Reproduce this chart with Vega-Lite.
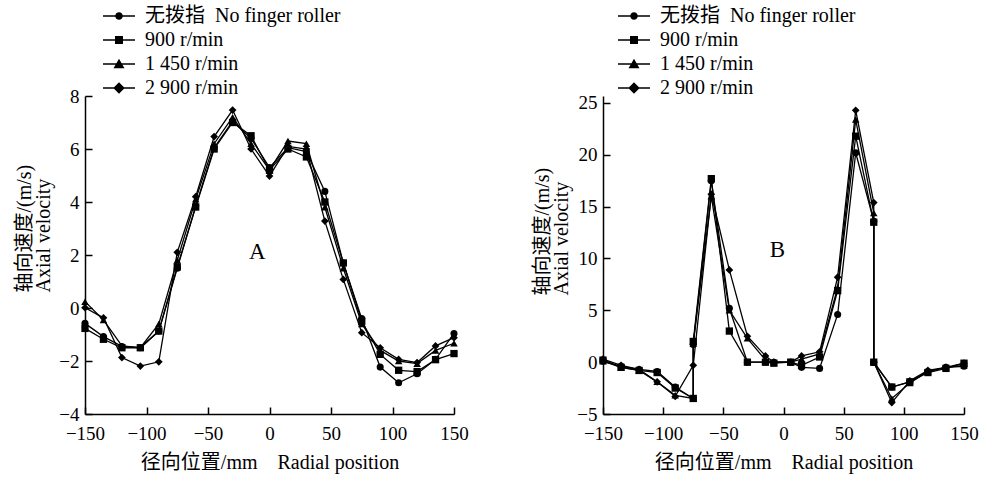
{
"$schema": "https://vega.github.io/schema/vega-lite/v6.json",
"background": "white",
"padding": {"left": 14, "top": 6, "right": 5, "bottom": 5},
"spacing": 62,
"config": {
  "view": {"stroke": null},
  "font": "Liberation Serif, Noto Sans CJK SC",
  "axis": {"domainColor": "black", "domainWidth": 1.5, "tickColor": "black", "tickWidth": 1.5, "tickSize": -7, "labelFont": "Liberation Serif", "labelFontSize": 19, "labelColor": "black", "titleFont": "Liberation Serif, Noto Sans CJK SC", "titleFontSize": 20, "titleFontWeight": "normal", "titleColor": "black", "grid": false, "labelFlush": false},
  "axisX": {"labelPadding": 17, "titlePadding": 9},
  "axisY": {"labelPadding": 13, "titlePadding": 5, "titleLineHeight": 19, "titleAlign": "left"}
},
"datasets": {
"a": [
{"s":"无拨指\u00a0\u00a0No finger roller","r":-150,"v":-0.58},{"s":"无拨指\u00a0\u00a0No finger roller","r":-135,"v":-1.08},{"s":"无拨指\u00a0\u00a0No finger roller","r":-120,"v":-1.45},{"s":"无拨指\u00a0\u00a0No finger roller","r":-105,"v":-1.5},{"s":"无拨指\u00a0\u00a0No finger roller","r":-90,"v":-0.87},{"s":"无拨指\u00a0\u00a0No finger roller","r":-75,"v":1.5},{"s":"无拨指\u00a0\u00a0No finger roller","r":-60,"v":3.85},{"s":"无拨指\u00a0\u00a0No finger roller","r":-45,"v":6.05},{"s":"无拨指\u00a0\u00a0No finger roller","r":-30,"v":7.05},{"s":"无拨指\u00a0\u00a0No finger roller","r":-15,"v":6.4},{"s":"无拨指\u00a0\u00a0No finger roller","r":0,"v":5.3},{"s":"无拨指\u00a0\u00a0No finger roller","r":15,"v":6.05},{"s":"无拨指\u00a0\u00a0No finger roller","r":30,"v":5.9},{"s":"无拨指\u00a0\u00a0No finger roller","r":45,"v":4.4},{"s":"无拨指\u00a0\u00a0No finger roller","r":60,"v":1.7},{"s":"无拨指\u00a0\u00a0No finger roller","r":75,"v":-0.4},{"s":"无拨指\u00a0\u00a0No finger roller","r":90,"v":-2.23},{"s":"无拨指\u00a0\u00a0No finger roller","r":105,"v":-2.82},{"s":"无拨指\u00a0\u00a0No finger roller","r":120,"v":-2.48},{"s":"无拨指\u00a0\u00a0No finger roller","r":135,"v":-1.94},{"s":"无拨指\u00a0\u00a0No finger roller","r":150,"v":-0.96},
{"s":"900 r/min","r":-150,"v":-0.77},{"s":"900 r/min","r":-135,"v":-1.18},{"s":"900 r/min","r":-120,"v":-1.5},{"s":"900 r/min","r":-105,"v":-1.5},{"s":"900 r/min","r":-90,"v":-0.87},{"s":"900 r/min","r":-75,"v":1.55},{"s":"900 r/min","r":-60,"v":3.81},{"s":"900 r/min","r":-45,"v":6.0},{"s":"900 r/min","r":-30,"v":7.0},{"s":"900 r/min","r":-15,"v":6.5},{"s":"900 r/min","r":0,"v":5.2},{"s":"900 r/min","r":15,"v":6.0},{"s":"900 r/min","r":30,"v":5.7},{"s":"900 r/min","r":45,"v":4.0},{"s":"900 r/min","r":60,"v":1.7},{"s":"900 r/min","r":75,"v":-0.5},{"s":"900 r/min","r":90,"v":-1.75},{"s":"900 r/min","r":105,"v":-2.35},{"s":"900 r/min","r":120,"v":-2.4},{"s":"900 r/min","r":135,"v":-1.95},{"s":"900 r/min","r":150,"v":-1.72},
{"s":"1 450 r/min","r":-150,"v":0.24},{"s":"1 450 r/min","r":-135,"v":-0.45},{"s":"1 450 r/min","r":-120,"v":-1.43},{"s":"1 450 r/min","r":-105,"v":-1.5},{"s":"1 450 r/min","r":-90,"v":-0.6},{"s":"1 450 r/min","r":-75,"v":1.8},{"s":"1 450 r/min","r":-60,"v":4.1},{"s":"1 450 r/min","r":-45,"v":6.2},{"s":"1 450 r/min","r":-30,"v":7.2},{"s":"1 450 r/min","r":-15,"v":6.2},{"s":"1 450 r/min","r":0,"v":5.2},{"s":"1 450 r/min","r":15,"v":6.3},{"s":"1 450 r/min","r":30,"v":6.2},{"s":"1 450 r/min","r":45,"v":3.8},{"s":"1 450 r/min","r":60,"v":1.5},{"s":"1 450 r/min","r":75,"v":-0.6},{"s":"1 450 r/min","r":90,"v":-1.6},{"s":"1 450 r/min","r":105,"v":-2.0},{"s":"1 450 r/min","r":120,"v":-2.1},{"s":"1 450 r/min","r":135,"v":-1.6},{"s":"1 450 r/min","r":150,"v":-1.33},
{"s":"2 900 r/min","r":-150,"v":0.01},{"s":"2 900 r/min","r":-135,"v":-0.37},{"s":"2 900 r/min","r":-120,"v":-1.87},{"s":"2 900 r/min","r":-105,"v":-2.19},{"s":"2 900 r/min","r":-90,"v":-2.03},{"s":"2 900 r/min","r":-75,"v":2.1},{"s":"2 900 r/min","r":-60,"v":4.2},{"s":"2 900 r/min","r":-45,"v":6.47},{"s":"2 900 r/min","r":-30,"v":7.47},{"s":"2 900 r/min","r":-15,"v":6.0},{"s":"2 900 r/min","r":0,"v":4.98},{"s":"2 900 r/min","r":15,"v":6.1},{"s":"2 900 r/min","r":30,"v":6.0},{"s":"2 900 r/min","r":45,"v":3.28},{"s":"2 900 r/min","r":60,"v":1.08},{"s":"2 900 r/min","r":75,"v":-0.93},{"s":"2 900 r/min","r":90,"v":-1.5},{"s":"2 900 r/min","r":105,"v":-1.94},{"s":"2 900 r/min","r":120,"v":-2.06},{"s":"2 900 r/min","r":135,"v":-1.43},{"s":"2 900 r/min","r":150,"v":-1.12}
],
"b": [
{"s":"无拨指\u00a0\u00a0No finger roller","o":0,"r":-150,"v":0.1},{"s":"无拨指\u00a0\u00a0No finger roller","o":1,"r":-135,"v":-0.4},{"s":"无拨指\u00a0\u00a0No finger roller","o":2,"r":-120,"v":-0.7},{"s":"无拨指\u00a0\u00a0No finger roller","o":3,"r":-105,"v":-0.9},{"s":"无拨指\u00a0\u00a0No finger roller","o":4,"r":-90,"v":-2.4},{"s":"无拨指\u00a0\u00a0No finger roller","o":5,"r":-75,"v":-3.5},{"s":"无拨指\u00a0\u00a0No finger roller","o":6,"r":-75,"v":1.7},{"s":"无拨指\u00a0\u00a0No finger roller","o":7,"r":-60,"v":17.5},{"s":"无拨指\u00a0\u00a0No finger roller","o":8,"r":-45,"v":5.2},{"s":"无拨指\u00a0\u00a0No finger roller","o":9,"r":-30,"v":0.0},{"s":"无拨指\u00a0\u00a0No finger roller","o":10,"r":-15,"v":0.0},{"s":"无拨指\u00a0\u00a0No finger roller","o":11,"r":-8,"v":0.0},{"s":"无拨指\u00a0\u00a0No finger roller","o":12,"r":6,"v":0.0},{"s":"无拨指\u00a0\u00a0No finger roller","o":13,"r":15,"v":-0.5},{"s":"无拨指\u00a0\u00a0No finger roller","o":14,"r":30,"v":-0.6},{"s":"无拨指\u00a0\u00a0No finger roller","o":15,"r":45,"v":4.6},{"s":"无拨指\u00a0\u00a0No finger roller","o":16,"r":60,"v":20.2},{"s":"无拨指\u00a0\u00a0No finger roller","o":17,"r":75,"v":13.6},{"s":"无拨指\u00a0\u00a0No finger roller","o":18,"r":75,"v":0.0},{"s":"无拨指\u00a0\u00a0No finger roller","o":19,"r":90,"v":-2.4},{"s":"无拨指\u00a0\u00a0No finger roller","o":20,"r":105,"v":-1.9},{"s":"无拨指\u00a0\u00a0No finger roller","o":21,"r":120,"v":-0.9},{"s":"无拨指\u00a0\u00a0No finger roller","o":22,"r":135,"v":-0.5},{"s":"无拨指\u00a0\u00a0No finger roller","o":23,"r":150,"v":-0.4},
{"s":"900 r/min","o":0,"r":-150,"v":0.2},{"s":"900 r/min","o":1,"r":-135,"v":-0.5},{"s":"900 r/min","o":2,"r":-120,"v":-0.8},{"s":"900 r/min","o":3,"r":-105,"v":-1.0},{"s":"900 r/min","o":4,"r":-90,"v":-2.5},{"s":"900 r/min","o":5,"r":-75,"v":-3.5},{"s":"900 r/min","o":6,"r":-75,"v":2.0},{"s":"900 r/min","o":7,"r":-60,"v":17.7},{"s":"900 r/min","o":8,"r":-45,"v":3.0},{"s":"900 r/min","o":9,"r":-30,"v":0.0},{"s":"900 r/min","o":10,"r":-15,"v":0.0},{"s":"900 r/min","o":11,"r":-8,"v":-0.1},{"s":"900 r/min","o":12,"r":6,"v":0.0},{"s":"900 r/min","o":13,"r":15,"v":-0.3},{"s":"900 r/min","o":14,"r":30,"v":0.5},{"s":"900 r/min","o":15,"r":45,"v":6.9},{"s":"900 r/min","o":16,"r":60,"v":21.8},{"s":"900 r/min","o":17,"r":75,"v":13.5},{"s":"900 r/min","o":18,"r":75,"v":0.0},{"s":"900 r/min","o":19,"r":90,"v":-2.4},{"s":"900 r/min","o":20,"r":105,"v":-1.9},{"s":"900 r/min","o":21,"r":120,"v":-1.0},{"s":"900 r/min","o":22,"r":135,"v":-0.6},{"s":"900 r/min","o":23,"r":150,"v":-0.1},
{"s":"1 450 r/min","o":0,"r":-150,"v":0.1},{"s":"1 450 r/min","o":1,"r":-135,"v":-0.5},{"s":"1 450 r/min","o":2,"r":-120,"v":-0.8},{"s":"1 450 r/min","o":3,"r":-105,"v":-1.9},{"s":"1 450 r/min","o":4,"r":-90,"v":-3.2},{"s":"1 450 r/min","o":5,"r":-75,"v":-3.5},{"s":"1 450 r/min","o":6,"r":-75,"v":1.8},{"s":"1 450 r/min","o":7,"r":-60,"v":16.0},{"s":"1 450 r/min","o":8,"r":-45,"v":5.0},{"s":"1 450 r/min","o":9,"r":-30,"v":2.3},{"s":"1 450 r/min","o":10,"r":-15,"v":0.2},{"s":"1 450 r/min","o":11,"r":-8,"v":0.0},{"s":"1 450 r/min","o":12,"r":6,"v":0.0},{"s":"1 450 r/min","o":13,"r":15,"v":0.3},{"s":"1 450 r/min","o":14,"r":30,"v":0.8},{"s":"1 450 r/min","o":15,"r":45,"v":7.2},{"s":"1 450 r/min","o":16,"r":60,"v":23.4},{"s":"1 450 r/min","o":17,"r":75,"v":14.4},{"s":"1 450 r/min","o":18,"r":75,"v":0.0},{"s":"1 450 r/min","o":19,"r":90,"v":-3.5},{"s":"1 450 r/min","o":20,"r":105,"v":-2.0},{"s":"1 450 r/min","o":21,"r":120,"v":-0.9},{"s":"1 450 r/min","o":22,"r":135,"v":-0.5},{"s":"1 450 r/min","o":23,"r":150,"v":-0.3},
{"s":"2 900 r/min","o":0,"r":-150,"v":0.3},{"s":"2 900 r/min","o":1,"r":-135,"v":-0.3},{"s":"2 900 r/min","o":2,"r":-120,"v":-0.7},{"s":"2 900 r/min","o":3,"r":-105,"v":-1.9},{"s":"2 900 r/min","o":4,"r":-90,"v":-3.3},{"s":"2 900 r/min","o":5,"r":-75,"v":-0.3},{"s":"2 900 r/min","o":7,"r":-60,"v":16.2},{"s":"2 900 r/min","o":8,"r":-45,"v":8.9},{"s":"2 900 r/min","o":9,"r":-30,"v":2.5},{"s":"2 900 r/min","o":10,"r":-15,"v":0.6},{"s":"2 900 r/min","o":11,"r":-8,"v":0.0},{"s":"2 900 r/min","o":12,"r":6,"v":0.0},{"s":"2 900 r/min","o":13,"r":15,"v":0.6},{"s":"2 900 r/min","o":14,"r":30,"v":1.0},{"s":"2 900 r/min","o":15,"r":45,"v":8.2},{"s":"2 900 r/min","o":16,"r":60,"v":24.3},{"s":"2 900 r/min","o":17,"r":75,"v":15.4},{"s":"2 900 r/min","o":18,"r":75,"v":0.0},{"s":"2 900 r/min","o":19,"r":90,"v":-3.9},{"s":"2 900 r/min","o":20,"r":105,"v":-1.8},{"s":"2 900 r/min","o":21,"r":120,"v":-0.8},{"s":"2 900 r/min","o":22,"r":135,"v":-0.5},{"s":"2 900 r/min","o":23,"r":150,"v":-0.1}
]
},
"hconcat": [
{
  "width": 369, "height": 318,
  "layer": [
    {"data": {"name": "a"}, "mark": {"type": "line", "color": "black", "strokeWidth": 1.3},
     "encoding": {
       "x": {"field": "r", "type": "quantitative", "scale": {"domain": [-150, 150], "nice": false, "zero": false}, "axis": {"values": [-150, -100, -50, 0, 50, 100, 150], "title": "径向位置/mm\u00a0\u00a0\u00a0\u00a0Radial position"}},
       "y": {"field": "v", "type": "quantitative", "scale": {"domain": [-4, 8], "nice": false, "zero": false}, "axis": {"values": [-4, -2, 0, 2, 4, 6, 8], "title": ["轴向速度/(m/s)", "Axial velocity"], "titleY": 196}},
       "detail": {"field": "s"}}},
    {"data": {"name": "a"}, "mark": {"type": "point", "filled": true, "color": "black", "opacity": 1},
     "encoding": {
       "x": {"field": "r", "type": "quantitative"},
       "y": {"field": "v", "type": "quantitative"},
       "shape": {"field": "s", "type": "nominal", "scale": {"domain": ["无拨指\u00a0\u00a0No finger roller", "900 r/min", "1 450 r/min", "2 900 r/min"], "range": ["circle", "square", "triangle-up", "diamond"]}, "legend": null},
       "size": {"field": "s", "type": "nominal", "scale": {"domain": ["无拨指\u00a0\u00a0No finger roller", "900 r/min", "1 450 r/min", "2 900 r/min"], "range": [50, 60, 85, 100]}, "legend": null}
     }},
    {"data": {"name": "a"}, "mark": {"type": "point", "filled": true, "color": "black", "opacity": 0, "size": 100},
     "encoding": {
       "x": {"field": "r", "type": "quantitative"},
       "y": {"field": "v", "type": "quantitative"},
       "shape": {"field": "s", "type": "nominal", "scale": {"domain": ["无拨指\u00a0\u00a0No finger roller", "900 r/min", "1 450 r/min", "2 900 r/min"], "range": ["M-3.2,-0.13L3.2,-0.13L3.2,0.13L-3.2,0.13Z M-0.75,0A0.75,0.75,0,1,1,0.75,0A0.75,0.75,0,1,1,-0.75,0Z", "M-3.2,-0.13L3.2,-0.13L3.2,0.13L-3.2,0.13Z M-0.8,-0.8L0.8,-0.8L0.8,0.8L-0.8,0.8Z", "M-3.2,-0.13L3.2,-0.13L3.2,0.13L-3.2,0.13Z M0,-1.05L1.1,0.85L-1.1,0.85Z", "M-3.2,-0.13L3.2,-0.13L3.2,0.13L-3.2,0.13Z M0,-1.15L1.15,0L0,1.15L-1.15,0Z"]},
         "legend": {"orient": "none", "legendX": 24, "legendY": -90, "title": null, "direction": "vertical", "labelFontSize": 20, "labelFont": "Liberation Serif, Noto Sans CJK SC", "labelColor": "black", "labelOffset": 16, "labelLimit": 400, "rowPadding": 4, "symbolSize": 100, "symbolOpacity": 1, "symbolFillColor": "black", "symbolStrokeColor": "black", "symbolStrokeWidth": 0, "padding": 0}}
     }},
    {"data": {"values": [{"t": "A"}]}, "mark": {"type": "text", "fontSize": 23, "font": "Liberation Serif", "color": "black"},
     "encoding": {"x": {"datum": -10, "type": "quantitative"}, "y": {"datum": 2.1, "type": "quantitative"}, "text": {"field": "t", "type": "nominal"}}}
  ],
  "resolve": {"scale": {"shape": "independent"}}
},
{
  "width": 361, "height": 318,
  "layer": [
    {"data": {"name": "b"}, "mark": {"type": "line", "color": "black", "strokeWidth": 1.3},
     "encoding": {
       "x": {"field": "r", "type": "quantitative", "scale": {"domain": [-150, 150], "nice": false, "zero": false}, "axis": {"values": [-150, -100, -50, 0, 50, 100, 150], "title": "径向位置/mm\u00a0\u00a0\u00a0\u00a0Radial position"}},
       "y": {"field": "v", "type": "quantitative", "scale": {"domain": [-5, 25.675], "nice": false, "zero": false}, "axis": {"values": [-5, 0, 5, 10, 15, 20, 25], "title": ["轴向速度/(m/s)", "Axial velocity"], "titleY": 199}},
       "detail": {"field": "s"}, "order": {"field": "o"}}},
    {"data": {"name": "b"}, "mark": {"type": "point", "filled": true, "color": "black", "opacity": 1},
     "encoding": {
       "x": {"field": "r", "type": "quantitative"},
       "y": {"field": "v", "type": "quantitative"},
       "shape": {"field": "s", "type": "nominal", "scale": {"domain": ["无拨指\u00a0\u00a0No finger roller", "900 r/min", "1 450 r/min", "2 900 r/min"], "range": ["circle", "square", "triangle-up", "diamond"]}, "legend": null},
       "size": {"field": "s", "type": "nominal", "scale": {"domain": ["无拨指\u00a0\u00a0No finger roller", "900 r/min", "1 450 r/min", "2 900 r/min"], "range": [50, 60, 85, 100]}, "legend": null}
     }},
    {"data": {"name": "b"}, "mark": {"type": "point", "filled": true, "color": "black", "opacity": 0, "size": 100},
     "encoding": {
       "x": {"field": "r", "type": "quantitative"},
       "y": {"field": "v", "type": "quantitative"},
       "shape": {"field": "s", "type": "nominal", "scale": {"domain": ["无拨指\u00a0\u00a0No finger roller", "900 r/min", "1 450 r/min", "2 900 r/min"], "range": ["M-3.2,-0.13L3.2,-0.13L3.2,0.13L-3.2,0.13Z M-0.75,0A0.75,0.75,0,1,1,0.75,0A0.75,0.75,0,1,1,-0.75,0Z", "M-3.2,-0.13L3.2,-0.13L3.2,0.13L-3.2,0.13Z M-0.8,-0.8L0.8,-0.8L0.8,0.8L-0.8,0.8Z", "M-3.2,-0.13L3.2,-0.13L3.2,0.13L-3.2,0.13Z M0,-1.05L1.1,0.85L-1.1,0.85Z", "M-3.2,-0.13L3.2,-0.13L3.2,0.13L-3.2,0.13Z M0,-1.15L1.15,0L0,1.15L-1.15,0Z"]},
         "legend": {"orient": "none", "legendX": 21, "legendY": -90, "title": null, "direction": "vertical", "labelFontSize": 20, "labelFont": "Liberation Serif, Noto Sans CJK SC", "labelColor": "black", "labelOffset": 16, "labelLimit": 400, "rowPadding": 4, "symbolSize": 100, "symbolOpacity": 1, "symbolFillColor": "black", "symbolStrokeColor": "black", "symbolStrokeWidth": 0, "padding": 0}}
     }},
    {"data": {"values": [{"t": "B"}]}, "mark": {"type": "text", "fontSize": 23, "font": "Liberation Serif", "color": "black"},
     "encoding": {"x": {"datum": -5, "type": "quantitative"}, "y": {"datum": 10.8, "type": "quantitative"}, "text": {"field": "t", "type": "nominal"}}}
  ],
  "resolve": {"scale": {"shape": "independent"}}
}
]
}
